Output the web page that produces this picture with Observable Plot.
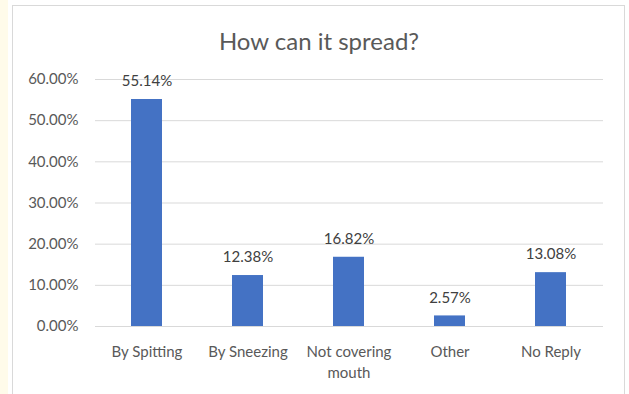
<!DOCTYPE html>
<html><head><meta charset="utf-8">
<script src="https://cdn.jsdelivr.net/npm/d3@7"></script>
<script src="https://cdn.jsdelivr.net/npm/@observablehq/plot@0.6"></script>
<style>
html,body{margin:0;padding:0;width:629px;height:394px;overflow:hidden;background:#fff;font-family:Lato,"Open Sans",sans-serif;}
#strip{position:absolute;left:0;top:0;width:8px;height:394px;background:#fffbea;}
#frame{position:absolute;left:12px;top:5px;width:613px;height:400px;border:1px solid #d9d9d9;box-sizing:border-box;}
#title{position:absolute;left:12px;width:614px;top:26px;text-align:center;font-size:24px;color:#595959;line-height:30px;}
#chart{position:absolute;left:0;top:60px;}
</style></head>
<body>
<div id="strip"></div>
<div id="frame"></div>
<div id="title">How can it spread?</div>
<div id="chart"></div>
<script>
const categories = ["By Spitting", "By Sneezing", "Not covering\nmouth", "Other", "No Reply"];
const values = [55.14, 12.38, 16.82, 2.57, 13.08];
const yTicks = [0, 10, 20, 30, 40, 50, 60];

const data = categories.map((c, i) => ({category: c, value: values[i]}));

const plot = Plot.plot({
  width: 629,
  height: 334,
  marginLeft: 95,
  marginRight: 26,
  marginTop: 19,
  marginBottom: 68,
  style: {fontFamily: "Lato, 'Open Sans', sans-serif", fontSize: "15px", color: "#595959", background: "transparent"},
  x: {domain: categories, paddingInner: 0.69, paddingOuter: 0.345, label: null},
  y: {domain: [0, 60], label: null},
  marks: [
    Plot.gridY(yTicks, {stroke: "#d9d9d9", strokeOpacity: 1, strokeWidth: 1}),
    Plot.axisY(yTicks, {tickSize: 0, tickPadding: 17, tickFormat: d => d.toFixed(2) + "%", fill: "#595959", fontSize: 15, label: null}),
    Plot.axisX({tickSize: 0, tickPadding: 16, fill: "#595959", fontSize: 15, label: null, lineHeight: 1.4}),
    Plot.barY(data, {x: "category", y: "value", fill: "#4472c4"}),
    Plot.text(data, {x: "category", y: "value", text: d => d.value.toFixed(2) + "%", dy: -18, fill: "#404040", fontSize: 15})
  ]
});
document.getElementById("chart").appendChild(plot);
</script>
</body></html>
